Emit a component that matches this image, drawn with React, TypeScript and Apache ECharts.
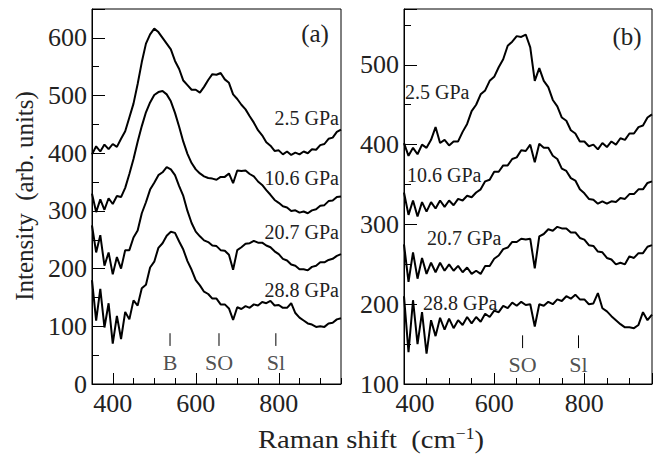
import React, { useEffect, useRef } from 'react';
import * as echarts from 'echarts';

const FONT = 'Liberation Serif';
const TXT = '#222';

// Raman shift sampling (cm^-1)
const X_A = [
  350, 360, 370, 380, 390, 400, 410, 420, 430, 440,
  450, 460, 470, 480, 490, 500, 510, 520, 530, 540,
  550, 560, 570, 580, 590, 600, 610, 620, 630, 640,
  650, 660, 670, 680, 690, 700, 710, 720, 730, 740,
  750, 760, 770, 780, 790, 800, 810, 820, 830, 840,
  850, 860, 870, 880, 890, 900, 910, 920, 930, 940,
  950,
];
const X_B = [
  400, 410, 420, 430, 440, 450, 460, 470, 480, 490,
  500, 510, 520, 530, 540, 550, 560, 570, 580, 590,
  600, 610, 620, 630, 640, 650, 660, 670, 680, 690,
  700, 710, 720, 730, 740, 750, 760, 770, 780, 790,
  800, 810, 820, 830, 840, 850, 860, 870, 880, 890,
  900, 910, 920, 930, 940, 950,
];

// Panel (a)
const A_25 = [
  398, 412, 403, 415, 407, 416, 411, 425, 438, 462,
  486, 520, 558, 590, 606, 616, 610, 600, 590, 580,
  560, 546, 526, 518, 510, 510, 505, 515, 527, 537,
  536, 539, 528, 522, 502, 494, 484, 476, 464, 453,
  440, 431, 419, 413, 404, 405, 398, 403, 397, 401,
  398, 403, 400, 407, 406, 414, 416, 425, 427, 437,
  441,
];
const A_106 = [
  330, 298, 320, 302, 322, 312, 326, 324, 340, 364,
  390, 420, 447, 471, 488, 501, 506, 508, 502, 490,
  470, 446, 420, 399, 383, 372, 365, 360, 357, 356,
  354, 359, 359, 365, 348, 370, 369, 370, 364, 360,
  351, 345, 336, 328, 319, 314, 308, 306, 300, 301,
  297, 299, 296, 301, 303, 309, 310, 317, 318, 324,
  325,
];
const A_207 = [
  275, 228, 258, 205, 228, 190, 220, 200, 232, 232,
  254, 266, 296, 315, 337, 349, 362, 367, 376, 372,
  362, 343, 326, 300, 279, 264, 256, 249, 246, 240,
  239, 232, 231, 224, 198, 232, 237, 243, 244, 248,
  245, 245, 240, 237, 230, 225, 217, 214, 207, 205,
  199, 199, 197, 203, 205, 211, 211, 215, 217, 222,
  225,
];
const A_288 = [
  180, 110, 165, 98, 140, 70, 118, 78, 125, 112,
  145, 136, 166, 172, 202, 212, 236, 244, 257, 264,
  262, 247, 233, 213, 198, 180, 171, 160, 156, 148,
  148, 138, 138, 131, 111, 133, 130, 135, 132, 138,
  136, 142, 140, 144, 136, 137, 132, 132, 140, 123,
  115, 110, 105, 103, 99, 100, 99, 105, 106, 112,
  114,
];

// Panel (b)
const B_25 = [
  402, 386, 396, 388, 400, 396, 406, 422, 402, 406,
  399, 404, 404, 416, 426, 442, 450, 463, 468, 480,
  485, 497, 507, 524, 529, 536, 535, 538, 522, 480,
  496, 480, 472, 456, 448, 434, 430, 418, 414, 404,
  404, 398, 400, 394, 402, 397, 404, 400, 408, 406,
  414, 414, 422, 424, 434, 438,
];
const B_106 = [
  340, 312, 330, 310, 328, 316, 328, 320, 330, 322,
  330, 324, 332, 330, 336, 334, 340, 344, 354, 356,
  366, 366, 374, 374, 382, 384, 393, 392, 400, 378,
  401, 396, 396, 386, 382, 370, 367, 358, 355, 344,
  339, 332, 331, 326, 329, 326, 329, 328, 333, 332,
  338, 338, 344, 344, 352, 354,
];
const B_207 = [
  275, 228, 265, 232, 258, 238, 252, 240, 252, 242,
  250, 242, 248, 240, 246, 238, 242, 238, 248, 248,
  257, 261, 269, 271, 278, 278, 282, 281, 282, 245,
  285, 288, 294, 292, 297, 295, 295, 290, 290, 283,
  281, 274, 273, 266, 265, 258, 256, 250, 252, 250,
  260, 258, 264, 264, 272, 274,
];
const B_288 = [
  210, 140, 205, 150, 190, 138, 180, 160, 183, 168,
  182, 170, 180, 174, 184, 176, 184, 178, 188, 184,
  192, 190, 198, 195, 202, 198, 203, 199, 200, 172,
  200, 198, 203, 200, 206, 204, 210, 207, 212, 206,
  206, 200, 201, 214, 195, 191, 185, 180, 175, 171,
  171, 170, 174, 190, 180, 187,
];

const PRESSURES = ['2.5 GPa', '10.6 GPa', '20.7 GPa', '28.8 GPa'];

// Mode markers
const MARK_A_X = [538, 656, 793];
const MARK_A_NAMES = ['B', 'SO', 'Sl'];
const MARK_A_TICK = [66, 88];
const MARK_A_LABEL_Y = 38;
const MARK_B_X = [663, 787];
const MARK_B_NAMES = ['SO', 'Sl'];
const MARK_B_TICK = [145, 161];
const MARK_B_LABEL_Y = 124;

// Tick positions
const MINOR_A_X = ['350', '400', '450', '500', '550', '600', '650', '700', '750', '800', '850', '900', '950'];
const TICK_A_X = [400, 600, 800];
const TICK_A_Y = [0, 100, 200, 300, 400, 500, 600];
const TICK_B_X = [400, 600, 800];
const TICK_B_Y = [100, 200, 300, 400, 500];

const zip = (xs: number[], ys: number[]) => xs.map((x, i) => [x, ys[i]]);

export default function App() {
  const ref = useRef<HTMLDivElement>(null);
  useEffect(() => {
    const chart = echarts.init(ref.current!, null, { renderer: 'svg' });
    const lineBase = { color: '#000', width: 1 };
    const labelStyle = { fontFamily: FONT, fontSize: 26, color: TXT };
    const hidden = { axisLine: { show: false }, axisLabel: { show: false }, splitLine: { show: false } };

    const mainX = (grid: number, min: number, max: number, labels: number[], first?: number) => ({
      type: 'value', gridIndex: grid, position: 'bottom', min, max, interval: 50,
      axisLine: { show: true, lineStyle: lineBase },
      axisTick: { show: true, inside: true, length: 6, lineStyle: lineBase },
      axisLabel: {
        ...labelStyle, margin: 6,
        formatter: (v: number) =>
          v === first ? `{m|${v}}` : (labels.indexOf(v) >= 0 ? String(v) : ''),
        rich: { m: { ...labelStyle, padding: [0, 0, 0, 22] } },
      },
      splitLine: { show: false },
    });
    const mainY = (grid: number, min: number, max: number, labels: number[]) => ({
      type: 'value', gridIndex: grid, position: 'left', min, max, interval: 50,
      axisLine: { show: true, lineStyle: lineBase },
      axisTick: { show: true, inside: true, length: 7, lineStyle: lineBase },
      axisLabel: {
        ...labelStyle, margin: 5,
        formatter: (v: number) => (labels.indexOf(v) >= 0 ? String(v) : ''),
      },
      splitLine: { show: false },
    });

    const curve = (xi: number, yi: number, xs: number[], ys: number[], name: string) => ({
      type: 'line', name, xAxisIndex: xi, yAxisIndex: yi, data: zip(xs, ys),
      showSymbol: false, symbol: 'none', lineStyle: { color: '#000', width: 2 },
      silent: true, z: 3,
    });
    const markerTicks = (xi: number, yi: number, xs: number[], range: number[]) =>
      xs.map((x) => ({
        type: 'line', xAxisIndex: xi, yAxisIndex: yi, data: [[x, range[0]], [x, range[1]]],
        showSymbol: false, symbol: 'none', lineStyle: { color: '#000', width: 1 }, silent: true,
      }));
    const markerLabels = (xi: number, yi: number, xs: number[], names: string[], y: number) => ({
      type: 'scatter', xAxisIndex: xi, yAxisIndex: yi, symbolSize: 0, silent: true,
      data: xs.map((x, i) => ({ value: [x, y], name: names[i] })),
      label: {
        show: true, position: 'inside', formatter: '{b}',
        fontFamily: FONT, fontSize: 22, color: TXT,
      },
    });

    const gpa = (text: string, x: number, y: number, align: string) => ({
      type: 'text', x, y, silent: true,
      style: { text, fontFamily: FONT, fontSize: 20, fill: TXT, align, verticalAlign: 'middle' },
    });

    const option = {
      animation: false,
      backgroundColor: '#fff',
      textStyle: { fontFamily: FONT },
      grid: [
        { left: 92, top: 9, width: 249, height: 375, show: true, borderColor: '#000', borderWidth: 1 },
        { left: 404, top: 9, width: 248, height: 375, show: true, borderColor: '#000', borderWidth: 1 },
      ],
      xAxis: [
        mainX(0, 350, 950, TICK_A_X),
        {
          type: 'category', gridIndex: 0, position: 'bottom', data: MINOR_A_X, boundaryGap: false,
          axisTick: {
            show: true, inside: true, length: 11, lineStyle: lineBase,
            interval: (_i: number, v: string) => TICK_A_X.indexOf(Number(v)) >= 0,
          },
          ...hidden,
        },
        mainX(1, 400, 950, TICK_B_X, 400),
        {
          type: 'value', gridIndex: 1, position: 'bottom', min: 400, max: 950, interval: 200,
          axisTick: { show: true, inside: true, length: 11, lineStyle: lineBase },
          ...hidden,
        },
      ],
      yAxis: [
        mainY(0, 0, 650, TICK_A_Y),
        {
          type: 'value', gridIndex: 0, position: 'left', min: 0, max: 650, interval: 100,
          axisTick: { show: true, inside: true, length: 13, lineStyle: lineBase },
          ...hidden,
        },
        mainY(1, 100, 570, TICK_B_Y),
        {
          type: 'value', gridIndex: 1, position: 'left', min: 100, max: 570, interval: 100,
          axisTick: { show: true, inside: true, length: 13, lineStyle: lineBase },
          ...hidden,
        },
      ],
      series: [
        curve(0, 0, X_A, A_25, PRESSURES[0]),
        curve(0, 0, X_A, A_106, PRESSURES[1]),
        curve(0, 0, X_A, A_207, PRESSURES[2]),
        curve(0, 0, X_A, A_288, PRESSURES[3]),
        curve(2, 2, X_B, B_25, PRESSURES[0]),
        curve(2, 2, X_B, B_106, PRESSURES[1]),
        curve(2, 2, X_B, B_207, PRESSURES[2]),
        curve(2, 2, X_B, B_288, PRESSURES[3]),
        ...markerTicks(0, 0, MARK_A_X, MARK_A_TICK),
        ...markerTicks(2, 2, MARK_B_X, MARK_B_TICK),
        markerLabels(0, 0, MARK_A_X, MARK_A_NAMES, MARK_A_LABEL_Y),
        markerLabels(2, 2, MARK_B_X, MARK_B_NAMES, MARK_B_LABEL_Y),
      ],
      graphic: [
        gpa(PRESSURES[0], 339, 118, 'right'),
        gpa(PRESSURES[1], 339, 178, 'right'),
        gpa(PRESSURES[2], 339, 232, 'right'),
        gpa(PRESSURES[3], 339, 290, 'right'),
        gpa(PRESSURES[0], 405, 92, 'left'),
        gpa(PRESSURES[1], 407, 175, 'left'),
        gpa(PRESSURES[2], 427, 238, 'left'),
        gpa(PRESSURES[3], 423, 303, 'left'),
        {
          type: 'text', x: 315, y: 33, silent: true,
          style: { text: '(a)', fontFamily: FONT, fontSize: 25, fill: TXT, align: 'center', verticalAlign: 'middle' },
        },
        {
          type: 'text', x: 627, y: 36, silent: true,
          style: { text: '(b)', fontFamily: FONT, fontSize: 25, fill: TXT, align: 'center', verticalAlign: 'middle' },
        },
        {
          type: 'text', x: 24, y: 196, rotation: Math.PI / 2, silent: true,
          style: {
            text: 'Intensity  (arb. units)', fontFamily: FONT, fontSize: 25, fill: TXT,
            align: 'center', verticalAlign: 'middle',
          },
        },
        {
          type: 'text', x: 371, y: 439, scaleX: 1.1, silent: true,
          style: {
            text: 'Raman shift  (cm{sup|−1})', fontFamily: FONT, fontSize: 26, fill: TXT,
            align: 'center', verticalAlign: 'middle',
            rich: { sup: { fontFamily: FONT, fontSize: 16, fill: TXT, verticalAlign: 'top' } },
          },
        },
      ],
    };
    chart.setOption(option as any);
    return () => chart.dispose();
  }, []);
  return <div ref={ref} style={{ position: 'fixed', left: 0, top: 0, width: 655, height: 455 }} />;
}
